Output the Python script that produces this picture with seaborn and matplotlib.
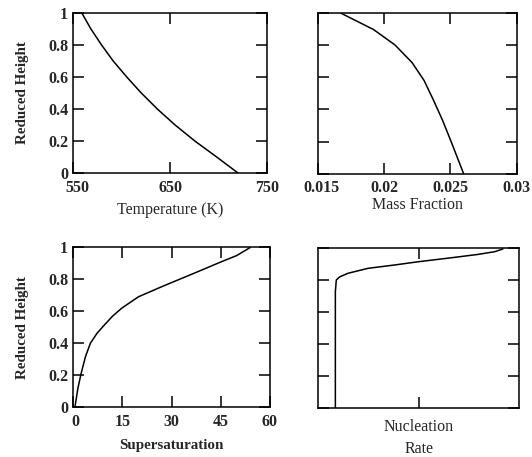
import matplotlib
matplotlib.use("Agg")
import matplotlib.pyplot as plt
import matplotlib.transforms as mtransforms
import seaborn as sns
import pandas as pd

# ---- data ----
height = [1.0, 0.9, 0.8, 0.7, 0.6, 0.5, 0.4, 0.3, 0.2, 0.1, 0.0]
temperature = [558.6, 568, 579, 591, 605, 620, 636.6, 655, 675.4, 698, 720]

mf_height = [1.0, 0.896, 0.80, 0.69, 0.58, 0.46, 0.333, 0.19, 0.0]
mass_fraction = [0.01664, 0.01917, 0.0208, 0.0221, 0.0230, 0.0237, 0.0244, 0.0251, 0.0260]

ss_height = [0.998, 0.948, 0.91, 0.858, 0.806, 0.754, 0.691, 0.62, 0.57, 0.515,
             0.462, 0.40, 0.316, 0.2125, 0.119, 0.014, 0.0]
supersaturation = [53.9, 49.8, 45.2, 39.2, 33.1, 27.0, 19.9, 14.8, 12.0, 9.5,
                   7.2, 5.2, 3.7, 2.4, 1.4, 0.6, 0.5]

nr_height = [0.0, 0.727, 0.80, 0.82, 0.842, 0.873, 0.894, 0.914, 0.939, 0.96, 0.977, 0.994]
nucleation = [0.085, 0.085, 0.0897, 0.107, 0.148, 0.248, 0.381, 0.497, 0.663, 0.796, 0.879, 0.92]

y_ticks = [0, 0.2, 0.4, 0.6, 0.8, 1.0]
y_tick_labels = ["0", "0.2", "0.4", "0.6", "0.8", "1"]
t_ticks = [550, 650, 750]
t_tick_labels = ["550", "650", "750"]
mf_ticks = [0.015, 0.02, 0.025, 0.03]
mf_tick_labels = ["0.015", "0.02", "0.025", "0.03"]
ss_ticks = [0, 15, 30, 45, 60]
ss_tick_labels = ["0", "15", "30", "45", "60"]
nr_ticks = [0.5]

sns.set_theme(style="ticks")
plt.rcParams["font.family"] = ["Liberation Serif", "DejaVu Serif"]
plt.rcParams["axes.edgecolor"] = "black"
plt.rcParams["axes.linewidth"] = 1.1

W, H = 532, 457
fig = plt.figure(figsize=(W / 100, H / 100), dpi=100)


def add_ax(l, r, t, b):
    return fig.add_axes([l / W, 1 - b / H, (r - l) / W, (b - t) / H])


ax_t = add_ax(73.3, 267.5, 12.7, 173.3)
ax_m = add_ax(318.3, 516.5, 12.7, 173.8)
ax_s = add_ax(73.3, 270.0, 247.3, 407.3)
ax_n = add_ax(318.3, 519.0, 248.0, 408.0)

line_kw = dict(color="black", linewidth=1.1, sort=False, estimator=None, legend=False)

sns.lineplot(data=pd.DataFrame({"x": temperature, "y": height}), x="x", y="y", ax=ax_t, **line_kw)
sns.lineplot(data=pd.DataFrame({"x": mass_fraction, "y": mf_height}), x="x", y="y", ax=ax_m, **line_kw)
sns.lineplot(data=pd.DataFrame({"x": supersaturation, "y": ss_height}), x="x", y="y", ax=ax_s, **line_kw)
sns.lineplot(data=pd.DataFrame({"x": nucleation, "y": nr_height}), x="x", y="y", ax=ax_n, **line_kw)

tick_font = dict(fontsize=11.5, fontweight="bold")

for ax in (ax_t, ax_m, ax_s, ax_n):
    ax.set_ylim(0, 1)
    ax.set_yticks(y_ticks)
    ax.tick_params(direction="in", top=True, right=True, length=8, width=1.1,
                   color="black")
    ax.tick_params(axis="x", pad=4.5)
    ax.tick_params(axis="y", pad=3.8)
    ax.set_xlabel("")
    ax.set_ylabel("")
    for s in ax.spines.values():
        s.set_visible(True)


def xlabel(ax, text, y, **kw):
    ax.set_xlabel(text, **kw)
    ax.xaxis.label.set_va("center")
    ax.xaxis.set_label_coords(0.5, y)


def nudge_first_xlabel(ax, dx_px):
    lab = ax.get_xticklabels()[0]
    lab.set_transform(lab.get_transform() +
                      mtransforms.ScaledTranslation(dx_px / 100, 0, fig.dpi_scale_trans))


# top-left
ax_t.set_xlim(550, 750)
ax_t.set_xticks(t_ticks)
ax_t.set_xticklabels(t_tick_labels, **tick_font)
ax_t.set_yticklabels(y_tick_labels, **tick_font)
xlabel(ax_t, "Temperature (K)", -0.2285, fontsize=11.5)
ax_t.set_ylabel("Reduced Height", fontsize=10.8, fontweight="bold")
ax_t.yaxis.set_label_coords(-0.228, 0.5)

# top-right
ax_m.set_xlim(0.015, 0.03)
ax_m.set_xticks(mf_ticks)
ax_m.set_xticklabels(mf_tick_labels, **tick_font)
ax_m.set_yticklabels([])
xlabel(ax_m, "Mass Fraction", -0.192, fontsize=11.5)

# bottom-left
ax_s.set_xlim(0, 60)
ax_s.set_xticks(ss_ticks)
ax_s.set_xticklabels(ss_tick_labels, **tick_font)
ax_s.set_yticklabels(y_tick_labels, **tick_font)
xlabel(ax_s, "Supersaturation", -0.24, fontsize=10.8, fontweight="bold")
ax_s.set_ylabel("Reduced Height", fontsize=10.8, fontweight="bold")
ax_s.yaxis.set_label_coords(-0.225, 0.5)

# bottom-right
ax_n.set_xlim(0, 1)
ax_n.set_xticks(nr_ticks)
ax_n.set_xticklabels([])
ax_n.set_yticklabels([])
xlabel(ax_n, "Nucleation\nRate", -0.186, fontsize=11.5, linespacing=1.5)

nudge_first_xlabel(ax_t, 4)
nudge_first_xlabel(ax_m, 3)
nudge_first_xlabel(ax_s, 2)

fig.savefig("out.png", dpi=100)
